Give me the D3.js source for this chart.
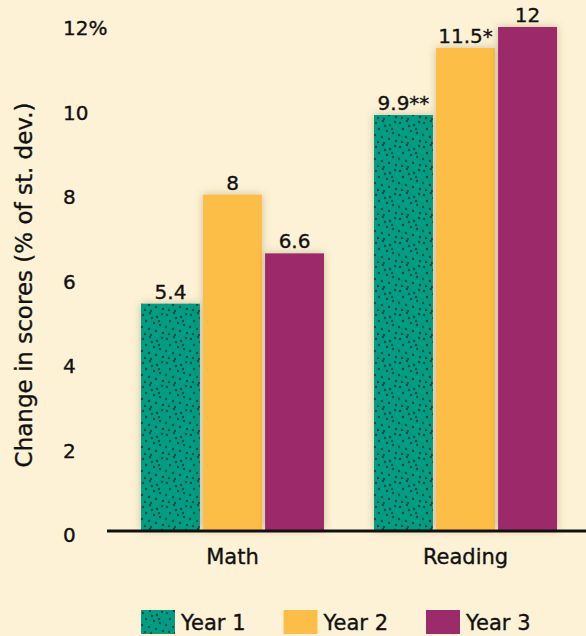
<!DOCTYPE html>
<html>
<head>
<meta charset="utf-8">
<script src="https://cdn.jsdelivr.net/npm/d3@7"></script>
<style>
  body { margin: 0; background: #fdf2d6; }
  svg text { font-family: "DejaVu Sans", sans-serif; fill: #111; stroke: #111; stroke-width: 0.35; }
</style>
</head>
<body>
<div class="chart"></div>
<script>

	/* ---------------------------------
		Data
	------------------------------------*/

	var subjects = ["Math", "Reading"];
	var years = ["Year 1", "Year 2", "Year 3"];
	var mathValues = [5.4, 8, 6.6];
	var readingValues = [9.9, 11.5, 12];
	var valueLabels = [["5.4", "8", "6.6"], ["9.9**", "11.5*", "12"]];
	var yTicks = [0, 2, 4, 6, 8, 10, 12];
	var colors = ["#009c83", "#fdbe47", "#9c2b6b"];

	var w = 586;
	var h = 636;

	var rows = [];
	subjects.forEach(function(s, i) {
		var vals = i === 0 ? mathValues : readingValues;
		years.forEach(function(y, j) {
			rows.push({ subject: s, year: y, value: vals[j], label: valueLabels[i][j], idx: j });
		});
	});

	/* ---------------------------------
		Scales
	------------------------------------*/

	var xScale = d3.scaleBand()
		.domain(subjects)
		.range([94.4, 603.6])
		.paddingInner(50 / 233)
		.paddingOuter(0.2);

	var xInner = d3.scaleBand()
		.domain(years)
		.range([0, xScale.bandwidth()])
		.paddingInner(0.05);

	var yScale = d3.scaleLinear()
		.domain([0, 12])
		.range([530, 27]);

	// tick labels sit on a slightly taller scale than the bars
	var yLabelScale = d3.scaleLinear()
		.domain([0, 12])
		.range([535, 28]);

	/* ---------------------------------
		SVG
	------------------------------------*/

	var svg = d3.select(".chart")
		.append("svg")
		.attr("width", w)
		.attr("height", h);

	svg.append("rect")
		.attr("width", w)
		.attr("height", h)
		.attr("fill", "#fdf2d6");

	var defs = svg.append("defs");

	// dotted texture for Year 1
	var pat = defs.append("pattern")
		.attr("id", "dots")
		.attr("patternUnits", "userSpaceOnUse")
		.attr("width", 24)
		.attr("height", 24);
	pat.append("rect").attr("width", 24).attr("height", 24).attr("fill", colors[0]);
	var dotPos = [[2,3],[9,1],[16,5],[21,2],[5,9],[13,11],[19,13],[1,15],[8,17],[15,19],[22,21],[4,22],[11,6],[18,9],[10,23]];
	pat.selectAll("circle")
		.data(dotPos)
		.enter()
		.append("circle")
		.attr("cx", function(d) { return d[0]; })
		.attr("cy", function(d) { return d[1]; })
		.attr("r", 1.2)
		.attr("fill", "#1a4a3d");

	var shadow = defs.append("filter")
		.attr("id", "shadow")
		.attr("x", "-20%").attr("y", "-10%")
		.attr("width", "140%").attr("height", "120%");
	shadow.append("feDropShadow")
		.attr("dx", 0).attr("dy", 0)
		.attr("stdDeviation", 4)
		.attr("flood-color", "#6b5a2a")
		.attr("flood-opacity", 0.35);

	function fillFor(i) {
		return i === 0 ? "url(#dots)" : colors[i];
	}

	// Y tick labels
	svg.append("g")
		.selectAll("text")
		.data(yTicks)
		.enter()
		.append("text")
		.attr("x", 63)
		.attr("y", function(d) { return yLabelScale(d) + 7; })
		.attr("font-size", 20)
		.text(function(d) { return d === 12 ? "12%" : d; });

	// Y axis title
	svg.append("text")
		.attr("transform", "translate(32,285) rotate(-90)")
		.attr("text-anchor", "middle")
		.attr("font-size", 23)
		.text("Change in scores (% of st. dev.)");

	// Bars
	var groups = svg.append("g")
		.selectAll("g")
		.data(subjects)
		.enter()
		.append("g")
		.attr("transform", function(d) { return "translate(" + xScale(d) + ",0)"; });

	groups.selectAll("rect")
		.data(function(s) { return rows.filter(function(r) { return r.subject === s; }); })
		.enter()
		.append("rect")
		.attr("x", function(d) { return xInner(d.year); })
		.attr("y", function(d) { return yScale(d.value); })
		.attr("width", xInner.bandwidth())
		.attr("height", function(d) { return yScale(0) - yScale(d.value); })
		.attr("fill", function(d) { return fillFor(d.idx); })
		.attr("filter", "url(#shadow)");

	groups.selectAll("text")
		.data(function(s) { return rows.filter(function(r) { return r.subject === s; }); })
		.enter()
		.append("text")
		.attr("x", function(d) { return xInner(d.year) + xInner.bandwidth() / 2; })
		.attr("y", function(d) { return yScale(d.value) - 5; })
		.attr("text-anchor", "middle")
		.attr("font-size", 20)
		.text(function(d) { return d.label; });

	// Baseline
	svg.append("line")
		.attr("x1", 107)
		.attr("x2", w)
		.attr("y1", yScale(0) + 1)
		.attr("y2", yScale(0) + 1)
		.attr("stroke", "#111")
		.attr("stroke-width", 3);

	// Category labels
	svg.append("g")
		.selectAll("text")
		.data(subjects)
		.enter()
		.append("text")
		.attr("x", function(d) { return xScale(d) + xScale.bandwidth() / 2; })
		.attr("y", 564)
		.attr("text-anchor", "middle")
		.attr("font-size", 21)
		.text(function(d) { return d; });

	// Legend
	var legend = svg.append("g")
		.selectAll("g")
		.data(years)
		.enter()
		.append("g")
		.attr("transform", function(d, i) { return "translate(" + (141 + i * 142.5) + ",610)"; });

	legend.append("rect")
		.attr("width", 34)
		.attr("height", 24)
		.attr("fill", function(d, i) { return fillFor(i); });

	legend.append("text")
		.attr("x", 40)
		.attr("y", 20)
		.attr("font-size", 21)
		.text(function(d) { return d; });

</script>
</body>
</html>
